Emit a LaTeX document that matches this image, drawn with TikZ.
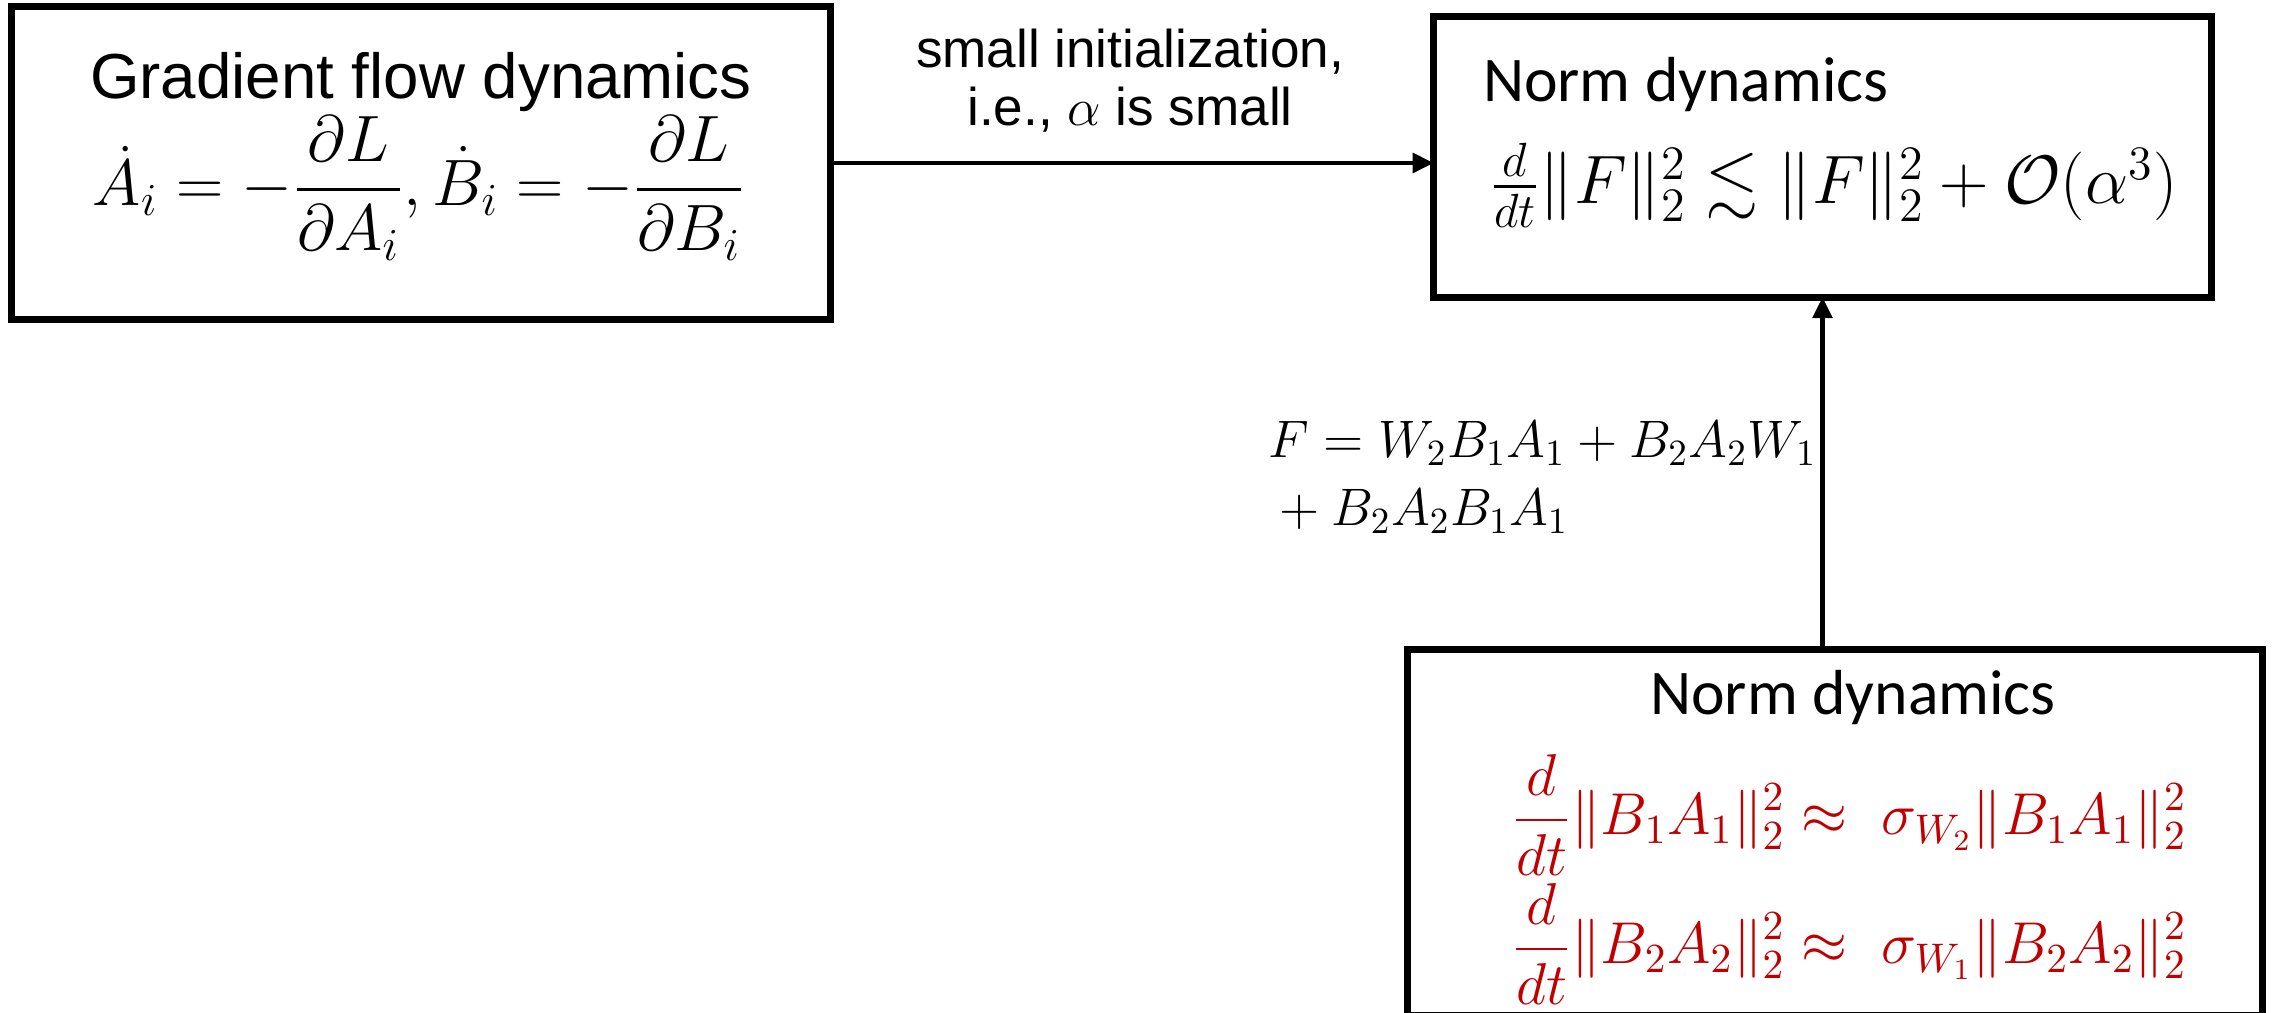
\RequirePackage{fix-cm}
\documentclass[tikz,border=0pt]{standalone}
\usepackage{amsmath,amssymb}
\usepackage[no-math]{fontspec}
\newfontfamily\arialf{Liberation Sans}
\newfontfamily\calibrif{Carlito}
\usetikzlibrary{arrows.meta}
\definecolor{pptred}{HTML}{C00000}
\begin{document}
\begin{tikzpicture}[x=0.01cm,y=-0.01cm,
  box/.style={draw=black,line width=2pt,inner sep=0pt,outer sep=0pt,rectangle},
  conn/.style={line width=1.4pt,-{Triangle[length=6pt,width=5.5pt]}},
  txt/.style={inner sep=0pt,outer sep=0pt},
  ]
\useasboundingbox (0,0) rectangle (2275,1013);
\node[box,minimum width=8.18cm,minimum height=3.12cm] (b1) at (421,163) {};
\node[box,minimum width=7.77cm,minimum height=2.80cm] (b2) at (1822.5,157) {};
\node[box,minimum width=8.54cm,minimum height=3.65cm] (b3) at (1835,832.5) {};

\node[txt,anchor=base,font=\arialf\fontsize{18.1}{22}\selectfont] (t1) at (421,99) {Gradient flow dynamics};
\node[txt,anchor=base] (q1) at (419,206) {\fontsize{18.65}{22}\selectfont $\displaystyle \dot{A}_i=-\frac{\partial L}{\partial A_i},\dot{B}_i=-\frac{\partial L}{\partial B_i}$};

\node[txt,anchor=base west,font=\calibrif\fontsize{18.1}{22}\selectfont] (t2) at (1483,102) {Norm dynamics};
\node[txt,anchor=base west] (q2) at (1490,204) {\fontsize{19.5}{23}\selectfont $\tfrac{d}{dt}\|F\|_2^2 \lesssim \|F\|_2^2+\mathcal{O}(\alpha^3)$};

\node[txt,anchor=base,font=\calibrif\fontsize{18.1}{22}\selectfont] (t3) at (1853,715) {Norm dynamics};
\node[txt,anchor=base west,text=pptred] (q3) at (1512,835) {\fontsize{16.8}{20}\selectfont $\displaystyle \frac{d}{dt}\|B_1A_1\|_2^2 \approx\ \sigma_{W_2}\|B_1A_1\|_2^2$};
\node[txt,anchor=base west,text=pptred] (q4) at (1512,964) {\fontsize{16.8}{20}\selectfont $\displaystyle \frac{d}{dt}\|B_2A_2\|_2^2 \approx\ \sigma_{W_1}\|B_2A_2\|_2^2$};

\draw[conn] (b1.east) -- (b1.east -| b2.west);
\draw[conn] (b2.south |- b3.north) -- (b2.south);

\node[txt,align=center,anchor=base,font=\arialf\fontsize{15.1}{16.6}\selectfont] (l1) at (1130,126) {small initialization,\\i.e., $\alpha$ is small};
\node[txt,align=left,anchor=base west,font=\fontsize{15}{19.5}\selectfont] (l2) at (1268,526) {$F=W_2B_1A_1+B_2A_2W_1$\\${}+B_2A_2B_1A_1$};
\end{tikzpicture}
\end{document}
